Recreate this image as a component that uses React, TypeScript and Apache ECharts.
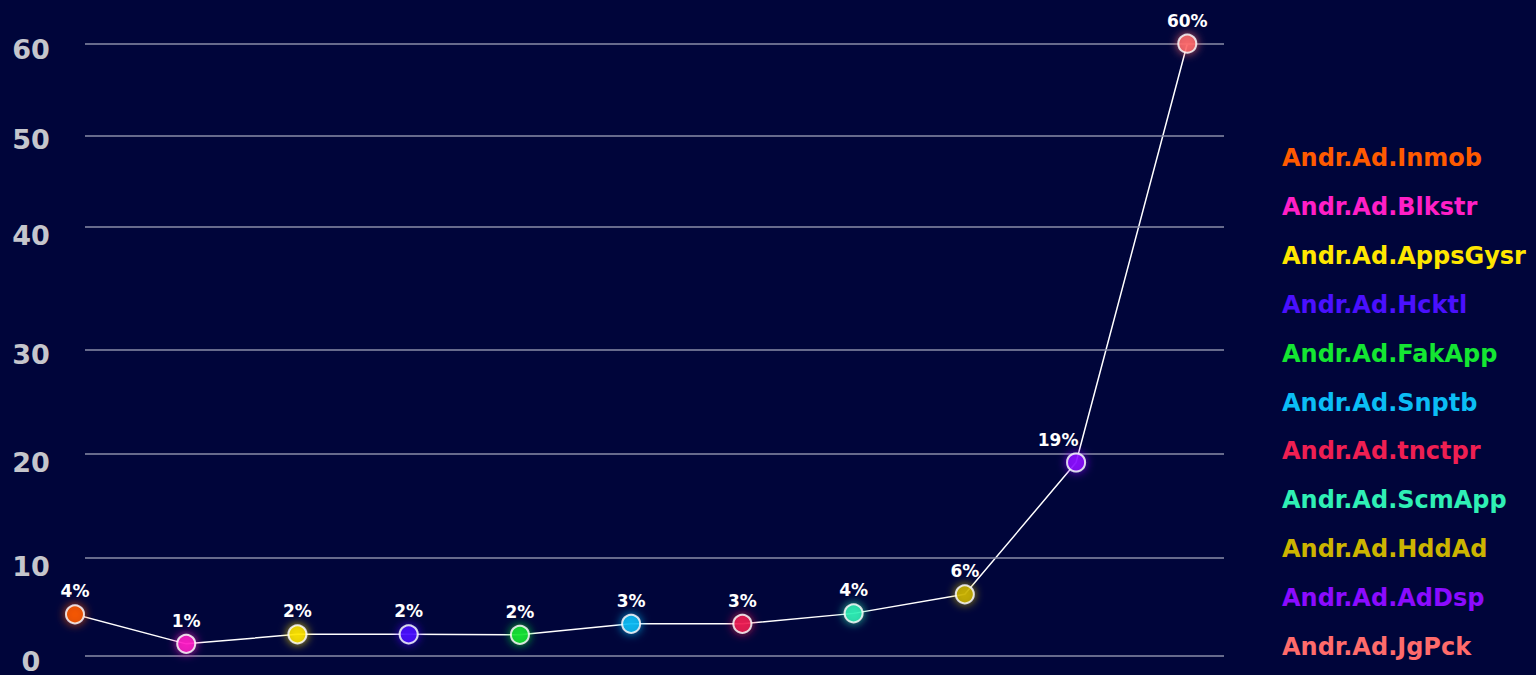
import React, { useEffect, useRef } from "react";
import * as echarts from "echarts";

const categories = [
  "Andr.Ad.Inmob",
  "Andr.Ad.Blkstr",
  "Andr.Ad.AppsGysr",
  "Andr.Ad.Hcktl",
  "Andr.Ad.FakApp",
  "Andr.Ad.Snptb",
  "Andr.Ad.tnctpr",
  "Andr.Ad.ScmApp",
  "Andr.Ad.HddAd",
  "Andr.Ad.AdDsp",
  "Andr.Ad.JgPck",
];
const values = [4.3, 1.2, 2.2, 2.2, 2.15, 3.3, 3.3, 4.4, 6.4, 19.4, 60];
const colors = [
  "#ff5a00",
  "#ff1fc6",
  "#ffe600",
  "#4a10ff",
  "#14e632",
  "#0bbdf5",
  "#ef1f52",
  "#2ff0b5",
  "#ccb400",
  "#8b0bff",
  "#ff6b6b",
];
const yTickValues = [0, 10, 20, 30, 40, 50, 60];
// piecewise-linear value scale: relative position of each tick along the axis
const yTickStops = [0, 0.1558, 0.3254, 0.502, 0.6954, 0.8535, 1];

function scaleY(v: number): number {
  for (let k = 0; k < yTickValues.length - 1; k++) {
    const a = yTickValues[k];
    const b = yTickValues[k + 1];
    if (v <= b || k === yTickValues.length - 2) {
      return yTickStops[k] + ((v - a) / (b - a)) * (yTickStops[k + 1] - yTickStops[k]);
    }
  }
  return 0;
}

const FONT = "'DejaVu Sans', 'Noto Sans', sans-serif";
const BG = "#00053a";

export default function App() {
  const ref = useRef<HTMLDivElement>(null);
  useEffect(() => {
    document.body.style.margin = "0";
    document.body.style.background = BG;
    const chart = echarts.init(ref.current!, null, { renderer: "svg" });

    const scatterSeries = categories.map((name, i) => ({
      name,
      type: "scatter",
      z: 5,
      clip: false,
      symbol: "circle",
      symbolSize: 18,
      data: [[i, scaleY(values[i])]],
      itemStyle: {
        color: colors[i],
        borderColor: "#ffffff",
        borderWidth: 2,
        shadowBlur: 10,
        shadowColor: colors[i],
      },
      label: {
        show: true,
        position: "top",
        distance: 4,
        offset: i === 9 ? [-18, 0] : [0, 0],
        formatter: () => `${Math.round(values[i])}%`,
        color: "#ffffff",
        opacity: 1,
        textBorderWidth: 0,
        textShadowBlur: 0,
        fontFamily: FONT,
        fontWeight: "bold",
        fontSize: 17,
        lineHeight: 18,
      },
    }));

    const option: any = {
      animation: false,
      backgroundColor: BG,
      textStyle: { fontFamily: FONT },
      grid: { left: 85, right: 312, top: 43.7, bottom: 19.7, containLabel: false },
      xAxis: {
        type: "value",
        min: 0.09,
        max: 10.33,
        show: false,
      },
      yAxis: {
        type: "value",
        min: 0,
        max: 1,
        axisLine: { show: false },
        axisTick: { show: false },
        splitLine: { show: false },
        axisLabel: {
          customValues: yTickValues.map(scaleY),
          formatter: (v: number) => {
            const idx = yTickValues.findIndex((t) => Math.abs(scaleY(t) - v) < 1e-6);
            return idx >= 0 ? String(yTickValues[idx]) : "";
          },
          align: "center",
          verticalAlign: "top",
          lineHeight: 12,
          margin: 54,
          color: "#c5c6cc",
          fontFamily: FONT,
          fontWeight: "bold",
          fontSize: 27,
        },
      },
      legend: {
        orient: "vertical",
        left: 1276,
        top: 144.3,
        padding: 0,
        icon: "none",
        itemWidth: 1,
        itemHeight: 14,
        itemGap: 20.84,
        selectedMode: false,
        textStyle: {
          fontFamily: FONT,
          fontWeight: "bold",
          fontSize: 24,
          lineHeight: 28,
        },
        data: categories.map((name, i) => ({
          name,
          textStyle: { color: colors[i] },
        })),
      },
      series: [
        {
          name: "gridlines",
          type: "line",
          z: 1,
          data: [],
          markLine: {
            silent: true,
            symbol: "none",
            label: { show: false },
            lineStyle: { color: "#8a8ea8", width: 1.5, type: "solid" },
            data: yTickValues.map((t) => ({ yAxis: scaleY(t) })),
          },
        },
        {
          name: "trend",
          type: "line",
          z: 3,
          clip: false,
          symbol: "none",
          lineStyle: { color: "#ffffff", width: 1.5 },
          data: values.map((v, i) => [i, scaleY(v)]),
        },
        ...scatterSeries,
      ],
    };
    chart.setOption(option);
    return () => chart.dispose();
  }, []);
  return <div ref={ref} style={{ width: 1536, height: 675, background: BG }} />;
}
